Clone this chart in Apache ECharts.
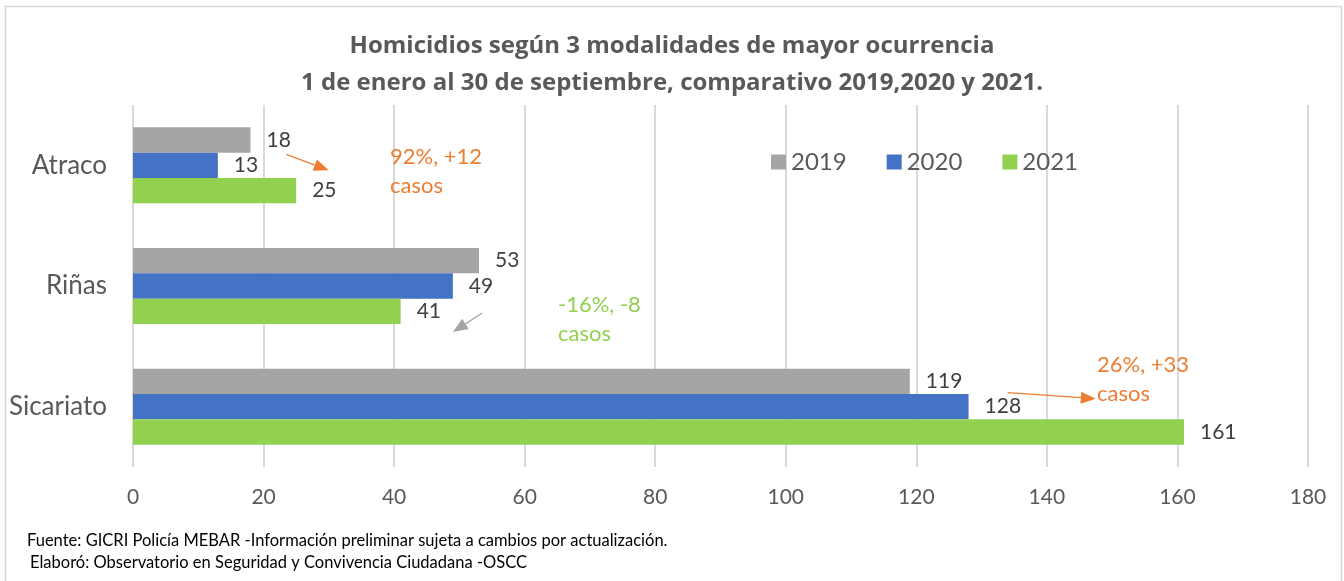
<!DOCTYPE html>
<html>
<head>
<meta charset="utf-8">
<script src="https://cdn.jsdelivr.net/npm/echarts@6/dist/echarts.min.js"></script>
<style>
  html, body { margin: 0; padding: 0; background: #fff; }
  #main { width: 1344px; height: 581px; }
</style>
</head>
<body>
<div id="main"></div>
<script>
var categories = ['Atraco', 'Riñas', 'Sicariato'];
var years = ['2019', '2020', '2021'];
var values2019 = [18, 53, 119];
var values2020 = [13, 49, 128];
var values2021 = [25, 41, 161];
var xTicks = [0, 20, 40, 60, 80, 100, 120, 140, 160, 180];

var colors = ['#A5A5A5', '#4472C4', '#92D050'];
var fontFamily = 'Lato, "Open Sans", sans-serif';
var titleFont = '"Open Sans", Lato, sans-serif';

var myChart = echarts.init(document.getElementById('main'));

function barSeries(name, data, color) {
	return {
		name: name,
		type: 'bar',
		data: data,
		barGap: '0%',
		barCategoryGap: '37%',
		itemStyle: { color: color },
		label: {
			show: true,
			position: 'right',
			distance: 16,
			color: '#404040',
			fontSize: 21,
			fontFamily: fontFamily
		}
	};
}

var titleStyle = { color: '#595959', fontSize: 24, fontWeight: 'bold', fontFamily: titleFont };

var option = {
	animation: false,
	textStyle: { fontFamily: fontFamily },
	title: [
		{ text: 'Homicidios según 3 modalidades de mayor ocurrencia', left: 'center', top: 34, padding: 0, textStyle: titleStyle },
		{ text: '1 de enero al 30 de septiembre, comparativo 2019,2020 y 2021.', left: 'center', top: 71, padding: 0, textStyle: titleStyle }
	],
	legend: {
		data: years,
		left: 766,
		top: 145,
		itemWidth: 15,
		itemHeight: 15,
		itemGap: 40,
		icon: 'rect',
		textStyle: { color: '#595959', fontSize: 24, fontFamily: fontFamily }
	},
	grid: { left: 133, right: 36, top: 105, bottom: 114, containLabel: false },
	xAxis: {
		type: 'value',
		min: xTicks[0],
		max: xTicks[xTicks.length - 1],
		interval: 20,
		axisLine: { show: false },
		axisTick: { show: false },
		splitLine: { lineStyle: { color: '#D9D9D9', width: 2 } },
		axisLabel: { color: '#595959', fontSize: 21, margin: 20, fontFamily: fontFamily }
	},
	yAxis: {
		type: 'category',
		data: categories,
		inverse: true,
		axisLine: { show: false },
		axisTick: { show: false },
		axisLabel: { color: '#595959', fontSize: 26, margin: 26, fontFamily: fontFamily }
	},
	series: [
		barSeries(years[0], values2019, colors[0]),
		barSeries(years[1], values2020, colors[1]),
		barSeries(years[2], values2021, colors[2])
	]
};
myChart.setOption(option);

// annotations placed relative to the category centres
function catY(name) { return myChart.convertToPixel({ yAxisIndex: 0 }, name); }
function valX(v) { return myChart.convertToPixel({ xAxisIndex: 0 }, v); }

function arrow(x1, y1, x2, y2, color) {
	var ang = Math.atan2(y2 - y1, x2 - x1);
	var len = 15, half = 6;
	var bx = x2 - len * Math.cos(ang), by = y2 - len * Math.sin(ang);
	var px = -Math.sin(ang) * half, py = Math.cos(ang) * half;
	return [
		{ type: 'line', shape: { x1: x1, y1: y1, x2: bx, y2: by }, style: { stroke: color, lineWidth: 1.3 } },
		{ type: 'polygon', shape: { points: [[x2, y2], [bx + px, by + py], [bx - px, by - py]] }, style: { fill: color } }
	];
}

function note(x, y, text, color) {
	return {
		type: 'text', x: x, y: y,
		style: { text: text, fill: color, font: '22px ' + fontFamily, lineHeight: 29, textVerticalAlign: 'middle' }
	};
}

function footer(x, y, text) {
	return {
		type: 'text', x: x, y: y,
		style: { text: text, fill: '#000', font: '16.5px ' + fontFamily, textVerticalAlign: 'middle' }
	};
}

var yA = catY('Atraco'), yR = catY('Riñas'), yS = catY('Sicariato');
var graphics = [
	{ type: 'rect', shape: { x: 5.5, y: 6.5, width: 1336, height: 600 }, style: { fill: 'none', stroke: '#D9D9D9', lineWidth: 1.5 }, silent: true },
	note(390, yA + 6, '92%, +12\ncasos', '#ED7D31'),
	note(558, yR + 33, '-16%, -8\ncasos', '#92D050'),
	note(1097, yS - 27, '26%, +33\ncasos', '#ED7D31'),
	footer(27, 541, 'Fuente: GICRI Policía MEBAR -Información preliminar sujeta a cambios por actualización.'),
	footer(30, 563, 'Elaboró: Observatorio en Seguridad y Convivencia Ciudadana -OSCC')
];
graphics = graphics
	.concat(arrow(valX(23.5), yA - 11, valX(30), yA + 5, '#ED7D31'))
	.concat(arrow(valX(53.5), yR + 27, valX(49), yR + 46, '#A5A5A5'))
	.concat(arrow(valX(134), yS - 14, valX(147.5), yS - 8, '#ED7D31'));

myChart.setOption({ graphic: graphics });
</script>
</body>
</html>
